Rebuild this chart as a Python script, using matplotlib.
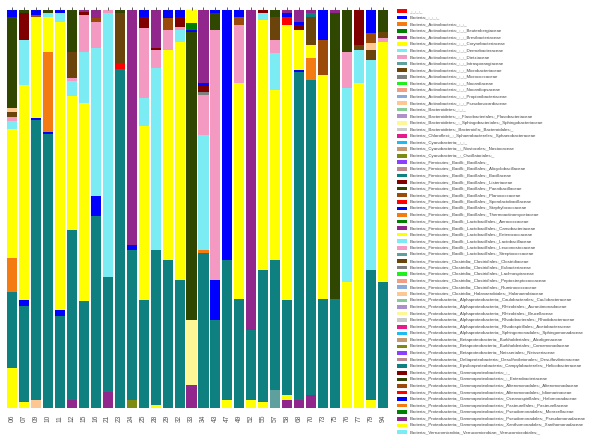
import numpy as np
import matplotlib
matplotlib.use("Agg")
import matplotlib.pyplot as plt
from matplotlib.patches import Rectangle

plt.rcParams['font.family'] = ['Liberation Sans', 'DejaVu Sans']

samples = ["06", "07", "09", "10", "11", "12", "15", "16", "21", "23", "24",
           "25", "28", "29", "32", "33", "34", "43", "47", "49", "52", "55",
           "57", "58", "68", "70", "73", "75", "76", "77", "79", "94"]

act = "Bacteria;_Actinobacteria;_;_;_"
bac = "Bacteria;_Firmicutes;_Bacilli;_Bacillales;_"
lac = "Bacteria;_Firmicutes;_Bacilli;_Lactobacillales;_"
clo = "Bacteria;_Firmicutes;_Clostridia;_Clostridiales;_"
alp = "Bacteria;_Proteobacteria;_Alphaproteobacteria;_"
bet = "Bacteria;_Proteobacteria;_Betaproteobacteria;_"
gam = "Bacteria;_Proteobacteria;_Gammaproteobacteria;_"

taxa = [
    "_;_;_;_", "Bacteria;_;_;_;_", act,
    act + "Beutenbergiaceae", act + "Brevibacteriaceae", act + "Corynebacteriaceae",
    act + "Dermabacteraceae", act + "Dietziaceae", act + "Intrasporangiaceae",
    act + "Microbacteriaceae", act + "Micrococcaceae", act + "Nocardiaceae",
    act + "Nocardiopsaceae", act + "Propionibacteriaceae", act + "Pseudonocardiaceae",
    "Bacteria;_Bacteroidetes;_;_;_",
    "Bacteria;_Bacteroidetes;_;_Flavobacteriales;_Flavobacteriaceae",
    "Bacteria;_Bacteroidetes;_;_Sphingobacteriales;_Sphingobacteriaceae",
    "Bacteria;_Bacteroidetes;_Bacteroidia;_Bacteroidales;_",
    "Bacteria;_Chloroflexi;_;_Sphaerobacterales;_Sphaerobacteraceae",
    "Bacteria;_Cyanobacteria;_;_;_",
    "Bacteria;_Cyanobacteria;_;_Nostocales;_Nostocaceae",
    "Bacteria;_Cyanobacteria;_;_Oscillatoriales;_",
    bac, bac + "Alicyclobacillaceae", bac + "Bacillaceae", bac + "Listeriaceae",
    bac + "Paenibacillaceae", bac + "Planococcaceae", bac + "Sporolactobacillaceae",
    bac + "Staphylococcaceae", bac + "Thermoactinomycetaceae",
    lac + "Aerococcaceae", lac + "Carnobacteriaceae", lac + "Enterococcaceae",
    lac + "Lactobacillaceae", lac + "Leuconostocaceae", lac + "Streptococcaceae",
    clo + "Clostridiaceae", clo + "Eubacteriaceae", clo + "Lachnospiraceae",
    clo + "Peptostreptococcaceae", clo + "Ruminococcaceae",
    "Bacteria;_Firmicutes;_Clostridia;_Halanaerobiales;_Halanaerobiaceae",
    alp + "Caulobacterales;_Caulobacteraceae", alp + "Rhizobiales;_Aurantimonadaceae",
    alp + "Rhizobiales;_Brucellaceae", alp + "Rhodobacterales;_Rhodobacteraceae",
    alp + "Rhodospirillales;_Acetobacteraceae",
    alp + "Sphingomonadales;_Sphingomonadaceae",
    bet + "Burkholderiales;_Alcaligenaceae", bet + "Burkholderiales;_Comamonadaceae",
    bet + "Neisseriales;_Neisseriaceae",
    "Bacteria;_Proteobacteria;_Deltaproteobacteria;_Desulfovibrionales;_Desulfovibrionaceae",
    "Bacteria;_Proteobacteria;_Epsilonproteobacteria;_Campylobacterales;_Helicobacteraceae",
    gam + ";_", gam + ";_Enterobacteriaceae",
    gam + "Alteromonadales;_Alteromonadaceae", gam + "Alteromonadales;_Idiomarinaceae",
    gam + "Oceanospirillales;_Halomonadaceae", gam + "Pasteurellales;_Pasteurellaceae",
    gam + "Pseudomonadales;_Moraxellaceae", gam + "Pseudomonadales;_Pseudomonadaceae",
    gam + "Xanthomonadales;_Xanthomonadaceae",
    "Bacteria;_Verrucomicrobia;_Verrucomicrobiae;_Verrucomicrobiales;_",
]

# colour list repeats every 29 taxa
palette = ["#ff0000", "#0000ff", "#f47b12", "#008000", "#91278d", "#ffff00",
           "#7cecf4", "#f49ac2", "#5da09e", "#6b440b", "#808080", "#1ef01e",
           "#f29d86", "#89aadb", "#fdc793", "#86cc96", "#ac8fcb", "#fff696",
           "#cacaca", "#e8198a", "#1ebaf2", "#c49a72", "#7e8a12", "#8b3fff",
           "#bb8a8f", "#0e8080", "#800000", "#2f4700", "#9c4a0a"]

c06 = [(60, 1.8), (57, 22.9), (44, 1.0), (39, 1.3), (37, 1.0), (36, 2.0), (35, 32.4), (32, 8.5), (26, 19.0), (6, 10.1)]
c07 = [(57, 0.8), (56, 6.8), (36, 11.3), (35, 54.0), (31, 1.5), (26, 24.1), (6, 1.5)]
c09 = [(60, 1.3), (58, 0.5), (35, 25.4), (31, 0.5), (26, 70.3), (15, 2.0)]
c10 = [(57, 0.8), (36, 1.0), (35, 8.8), (32, 20.1), (31, 0.5), (26, 68.8)]
c11 = [(60, 0.8), (36, 2.3), (35, 72.3), (31, 1.5), (26, 23.1)]
c12 = [(57, 10.6), (39, 6.5), (37, 0.8), (36, 3.8), (35, 33.7), (26, 42.7), (5, 2.0)]
c15 = [(63, 0.5), (56, 0.8), (37, 9.3), (36, 12.8), (35, 49.7), (26, 26.9)]
c16 = [(63, 2.0), (58, 1.0), (37, 6.5), (36, 37.2), (31, 5.0), (26, 48.3)]
c21 = [(37, 0.8), (36, 66.3), (26, 28.9), (5, 4.0)]
c23 = [(57, 0.8), (39, 12.6), (30, 1.3), (26, 85.3)]
c24 = [(34, 59.0), (31, 1.3), (26, 37.7), (23, 2.0)]
c25 = [(60, 1.8), (56, 2.8), (37, 17.6), (36, 7.0), (35, 43.7), (26, 27.1)]
c28 = [(63, 9.5), (56, 0.5), (37, 4.5), (36, 45.7), (26, 39.0), (6, 0.8)]
c29 = [(60, 2.0), (58, 3.0), (37, 5.0), (35, 52.8), (26, 37.2)]
c32 = [(60, 1.8), (56, 2.5), (37, 0.8), (36, 3.0), (35, 59.8), (26, 32.1)]
c33 = [(64, 3.3), (62, 1.8), (60, 0.5), (57, 72.4), (47, 16.3), (34, 5.8)]
c34 = [(63, 18.3), (60, 0.8), (56, 1.5), (40, 0.8), (37, 10.0), (36, 28.9), (32, 0.8), (26, 39.0)]
c43 = [(60, 0.8), (57, 4.3), (37, 62.8), (31, 10.1), (26, 22.1)]
c47 = [(31, 62.8), (26, 35.2), (6, 2.0)]
c49 = [(60, 1.8), (58, 2.0), (37, 14.6), (35, 54.3), (26, 27.3)]
c52 = [(34, 80.4), (26, 17.6), (6, 2.0)]
c55 = [(56, 0.8), (36, 1.8), (35, 62.8), (26, 33.2), (6, 1.5)]
c57 = [(57, 1.8), (39, 5.8), (37, 3.3), (36, 9.3), (35, 42.7), (26, 32.7), (9, 4.5)]
c58 = [(63, 0.8), (60, 1.0), (59, 2.0), (35, 69.1), (26, 23.9), (6, 1.3), (5, 2.0)]
c68 = [(63, 3.0), (60, 0.8), (56, 1.3), (35, 10.1), (31, 0.5), (26, 82.4), (5, 2.0)]
c70 = [(63, 0.8), (55, 1.0), (39, 7.0), (35, 3.3), (32, 5.5), (26, 79.1), (5, 3.3)]
c73 = [(60, 7.5), (58, 8.8), (35, 56.3), (26, 27.4)]
c75 = [(63, 0.8), (57, 71.9), (26, 27.4)]
c76 = [(57, 10.6), (37, 9.0), (36, 48.7), (35, 31.7)]
c77 = [(56, 8.8), (39, 1.3), (36, 8.3), (35, 81.7)]
c79 = [(60, 5.8), (58, 2.5), (44, 1.8), (39, 2.5), (36, 52.8), (26, 32.7), (6, 2.0)]
c94 = [(57, 5.5), (39, 1.5), (37, 1.0), (35, 60.3), (26, 31.7)]

compositions = [c06, c07, c09, c10, c11, c12, c15, c16, c21, c23, c24, c25, c28,
                c29, c32, c33, c34, c43, c47, c49, c52, c55, c57, c58, c68, c70,
                c73, c75, c76, c77, c79, c94]

abund = np.zeros((len(taxa), len(samples)))
for j, comp in enumerate(compositions):
    for t, v in comp:
        abund[t - 1, j] = v
abund = abund / abund.sum(axis=0) * 100

colors = [palette[i % len(palette)] for i in range(len(taxa))]

fig = plt.figure(figsize=(6.12, 4.40), dpi=100)
ax = fig.add_axes([5 / 612, 32 / 440, 385 / 612, 398 / 440])

x = np.arange(len(samples))
bottom = np.zeros(len(samples))
for i in range(len(taxa)):
    ax.bar(x, abund[i], width=0.84, bottom=bottom, color=colors[i], linewidth=0)
    bottom += abund[i]

ax.set_xlim(-0.58, len(samples) - 0.42)
ax.set_ylim(0, 100)
for s in ax.spines.values():
    s.set_visible(False)
ax.set_yticks([])
ax.set_xticks(x)
ax.set_xticklabels(samples, rotation=90, fontsize=4.8, color='#555555')
ax.tick_params(axis='x', bottom=False, top=True, length=2, width=0.6,
               color='#444444', pad=3)

# legend drawn as a column of swatches and labels
leg = fig.add_axes([397 / 612, 0, 215 / 612, 1])
leg.set_xlim(0, 215)
leg.set_ylim(440, 0)
leg.axis('off')
step = (432 - 11) / (len(taxa) - 1)
for i, name in enumerate(taxa):
    yc = 11 + i * step
    leg.add_patch(Rectangle((0, yc - 1.8), 10, 3.6, color=colors[i], linewidth=0))
    leg.text(12.5, yc, name, fontsize=3.2, va='center', ha='left', color='#444444')

fig.savefig("out.png", dpi=100)
